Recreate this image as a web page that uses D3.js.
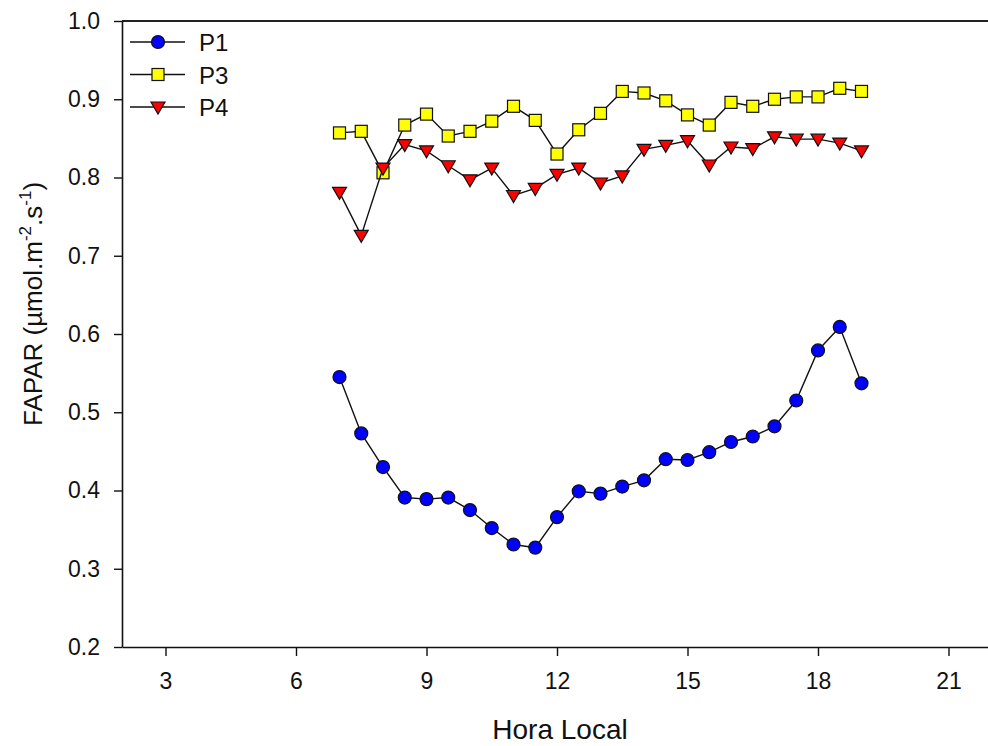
<!DOCTYPE html>
<html>
<head>
<meta charset="utf-8">
<script src="https://cdn.jsdelivr.net/npm/d3@7"></script>
<style>
	body { margin: 0; background: #fff; }
	svg { display: block; font-family: Arial, "Liberation Sans", sans-serif; }
</style>
</head>
<body>
<div id="my_dataviz"></div>
<script>
var margin = { top: 21, left: 122, bottom: 99 },
	W = 988,
	H = 746;

const HOURS = [7, 7.5, 8, 8.5, 9, 9.5, 10, 10.5, 11, 11.5, 12, 12.5, 13, 13.5, 14, 14.5, 15, 15.5, 16, 16.5, 17, 17.5, 18, 18.5, 19];

const P1 = [0.545, 0.473, 0.430, 0.391, 0.389, 0.391, 0.375, 0.352, 0.331, 0.327, 0.366, 0.399, 0.396, 0.405, 0.413, 0.440, 0.439, 0.449, 0.462, 0.469, 0.482, 0.515, 0.579, 0.609, 0.537];
const P3 = [0.857, 0.859, 0.806, 0.867, 0.881, 0.853, 0.859, 0.872, 0.891, 0.873, 0.830, 0.861, 0.882, 0.910, 0.908, 0.898, 0.880, 0.867, 0.896, 0.891, 0.900, 0.903, 0.903, 0.914, 0.910];
const P4 = [0.781, 0.726, 0.812, 0.842, 0.834, 0.815, 0.797, 0.812, 0.777, 0.786, 0.804, 0.812, 0.793, 0.802, 0.836, 0.841, 0.847, 0.816, 0.839, 0.837, 0.852, 0.849, 0.849, 0.844, 0.834];

const X_TICKS = [3, 6, 9, 12, 15, 18, 21];
const Y_TICKS = [0.2, 0.3, 0.4, 0.5, 0.6, 0.7, 0.8, 0.9, 1.0];

const series = [
	{ name: "P1", values: P1, shape: "circle", color: "#0000ff" },
	{ name: "P3", values: P3, shape: "square", color: "#ffff00" },
	{ name: "P4", values: P4, shape: "triangle", color: "#ff0000" }
];

var svg = d3
	.select("#my_dataviz")
	.append("svg")
	.attr("width", W)
	.attr("height", H);

var x = d3.scaleLinear().domain([2, 24]).range([margin.left, margin.left + 22 * 43.5]);
var y = d3.scaleLinear().domain([0.2, 1.0]).range([H - margin.bottom, margin.top]);

// top frame line
svg
	.append("line")
	.attr("x1", margin.left)
	.attr("x2", W)
	.attr("y1", y(1.0))
	.attr("y2", y(1.0))
	.attr("stroke", "#222")
	.attr("stroke-width", 2);

// axes
var xAxis = svg
	.append("g")
	.attr("transform", "translate(0," + y(0.2) + ")")
	.call(d3.axisBottom(x).tickValues(X_TICKS).tickSize(9).tickSizeOuter(0).tickPadding(17).tickFormat(d3.format("d")));

var yAxis = svg
	.append("g")
	.attr("transform", "translate(" + margin.left + ",0)")
	.call(d3.axisLeft(y).tickValues(Y_TICKS).tickSize(8).tickSizeOuter(0).tickPadding(14).tickFormat(d3.format(".1f")));

[xAxis, yAxis].forEach(function (g) {
	g.select(".domain").attr("stroke", "#111").attr("stroke-width", 1.6);
	g.selectAll(".tick line").attr("stroke", "#111").attr("stroke-width", 1.4);
	g.selectAll("text").attr("font-size", "23px").attr("fill", "#111").style("font-family", "Arial, 'Liberation Sans', sans-serif");
});

// axis titles
svg
	.append("text")
	.attr("x", 560)
	.attr("y", 739)
	.attr("text-anchor", "middle")
	.attr("font-size", "28px")
	.attr("fill", "#111")
	.text("Hora Local");

var ylab = svg
	.append("text")
	.attr("transform", "translate(42,304) rotate(-90)")
	.attr("text-anchor", "middle")
	.attr("font-size", "26px")
	.attr("fill", "#111");
ylab.append("tspan").text("FAPAR (\u00b5mol.m");
ylab.append("tspan").attr("dy", -11).attr("font-size", "17px").text("-2");
ylab.append("tspan").attr("dy", 11).text(".s");
ylab.append("tspan").attr("dy", -11).attr("font-size", "17px").text("-1");
ylab.append("tspan").attr("dy", 11).text(")");

function drawMarker(g, shape, color, cx, cy) {
	if (shape === "circle") {
		g.append("circle").attr("cx", cx).attr("cy", cy).attr("r", 6.5)
			.attr("fill", color).attr("stroke", "#111").attr("stroke-width", 1.2);
	} else if (shape === "square") {
		g.append("rect").attr("x", cx - 6).attr("y", cy - 6).attr("width", 12).attr("height", 12)
			.attr("fill", color).attr("stroke", "#111").attr("stroke-width", 1.2);
	} else {
		g.append("path")
			.attr("d", "M" + (cx - 7) + "," + (cy - 5) + "L" + (cx + 7) + "," + (cy - 5) + "L" + cx + "," + (cy + 7) + "Z")
			.attr("fill", color).attr("stroke", "#111").attr("stroke-width", 1.2);
	}
}

var line = d3
	.line()
	.x(function (d) { return x(d[0]); })
	.y(function (d) { return y(d[1]); });

series.forEach(function (s) {
	var pts = HOURS.map(function (h, i) { return [h, s.values[i]]; });
	svg.append("path")
		.datum(pts)
		.attr("d", line)
		.attr("fill", "none")
		.attr("stroke", "#111")
		.attr("stroke-width", 1.4);
	var g = svg.append("g");
	pts.forEach(function (p) {
		drawMarker(g, s.shape, s.color, x(p[0]), y(p[1]));
	});
});

// legend
series.forEach(function (s, i) {
	var ly = 42 + i * 32.5;
	var g = svg.append("g");
	g.append("line").attr("x1", 130).attr("x2", 185).attr("y1", ly).attr("y2", ly)
		.attr("stroke", "#111").attr("stroke-width", 1.4);
	drawMarker(g, s.shape, s.color, 158, ly);
	g.append("text").attr("x", 199).attr("y", ly + 9).attr("font-size", "24px").attr("fill", "#111").text(s.name);
});
</script>
</body>
</html>
